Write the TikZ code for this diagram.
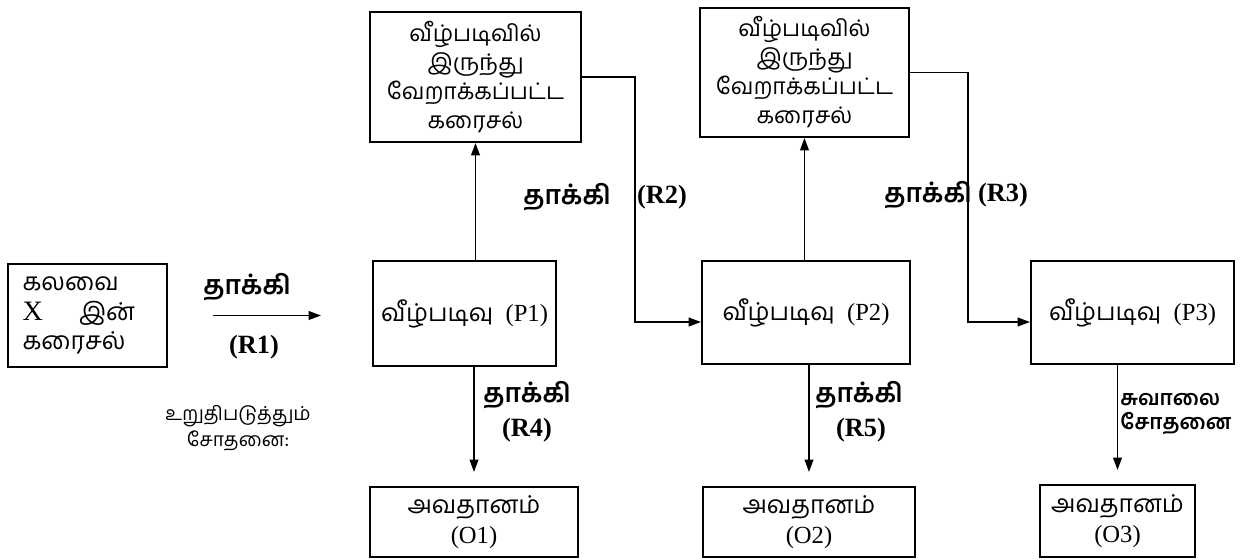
\documentclass[tikz,border=0pt]{standalone}
\usepackage{fontspec}
\setmainfont{Liberation Serif}
\newfontfamily\tamil[Script=Tamil]{Hind Madurai}
\usetikzlibrary{arrows.meta,positioning}
\tikzset{
  box/.style={draw,line width=1.2pt,inner sep=0pt,align=center,font=\fontsize{14}{17}\selectfont},
  arr/.style={-{Triangle[length=7pt,width=5pt]},line width=0.7pt},
  lbl/.style={inner sep=0pt,font=\fontsize{15}{18}\selectfont\bfseries},
  note/.style={inner sep=0pt,align=center,font=\fontsize{11}{15}\selectfont\tamil},
}

\begin{document}
\begin{tikzpicture}[x=0.02cm,y=-0.02cm]
  \useasboundingbox (0,0) rectangle (1251,560);
  \node[box,minimum width=3.18cm,minimum height=2.06cm,text width=2.6cm,align=left] (X) at (87.5,315.5)
    {{\tamil கலவை}\\\leavevmode\hbox to 2.25cm{\fontsize{16}{17}\selectfont X\hfill{\tamil\fontsize{14}{17}\selectfont இன்}}\\{\tamil கரைசல்}};
  \node[box,minimum width=3.66cm,minimum height=2.1cm] (P1) at (464.5,313.5) {{\tamil வீழ்படிவு}~~(P1)};
  \node[box,minimum width=4.16cm,minimum height=2.06cm] (P2) at (806,312.5) {{\tamil வீழ்படிவு}~~(P2)};
  \node[box,minimum width=4.06cm,minimum height=2.06cm] (P3) at (1132.5,312.5) {{\tamil வீழ்படிவு}~~(P3)};
  \node[box,minimum width=4.22cm,minimum height=2.6cm,font=\fontsize{13}{16.5}\selectfont\tamil] (T1) at (475.5,77)
    {வீழ்படிவில்\\இருந்து\\வேறாக்கப்பட்ட\\கரைசல்};
  \node[box,minimum width=4.18cm,minimum height=2.58cm,font=\fontsize{13}{16.5}\selectfont\tamil] (T2) at (804.5,72.5)
    {வீழ்படிவில்\\இருந்து\\வேறாக்கப்பட்ட\\கரைசல்};
  \node[box,minimum width=4.16cm,minimum height=1.4cm] (O1) at (474,522) {{\tamil அவதானம்}\\(O1)};
  \node[box,minimum width=4.24cm,minimum height=1.4cm] (O2) at (809,522) {{\tamil அவதானம்}\\(O2)};
  \node[box,minimum width=3.1cm,minimum height=1.44cm] (O3) at (1117.5,521) {{\tamil அவதானம்}\\(O3)};

  \coordinate (b2) at (635,322);
  \coordinate (b3) at (968,322);
  \draw[arr,shorten <=0.9cm,shorten >=1.02cm] (X.east) -- (X.east -| P1.west);
  \draw[arr] (T1.south |- P1.north) -- (T1.south);
  \draw[arr] (T2.south |- P2.north) -- (T2.south);
  \draw[arr] (T1.east) -| (b2) -- (b2 -| P2.west);
  \draw[arr] (T2.east) -| (b3) -- (b3 -| P3.west);
  \draw[arr,shorten >=0.28cm] (O1.north |- P1.south) -- (O1.north);
  \draw[arr,shorten >=0.28cm] (O2.north |- P2.south) -- (O2.north);
  \draw[arr,shorten >=0.28cm] (O3.north |- P3.south) -- (O3.north);

  \node[lbl] (t1) at (247,287) {\tamil தாக்கி};
  \node[lbl] (r1) at (254,347) {(R1)};
  \node[lbl] (t2) at (567,197) {\tamil தாக்கி};
  \node[lbl] (r2) at (662,197) {(R2)};
  \node[lbl] (t3) at (928,195) {\tamil தாக்கி};
  \node[lbl] (r3) at (1003,195) {(R3)};
  \node[lbl] (t4) at (527,395) {\tamil தாக்கி};
  \node[lbl] (r4) at (527,430) {(R4)};
  \node[lbl] (t5) at (859,395) {\tamil தாக்கி};
  \node[lbl] (r5) at (861,430) {(R5)};
  \node[note,anchor=west,align=left,font=\fontsize{12}{14}\selectfont\bfseries\tamil] (sv) at (1120,414) {சுவாலை\\சோதனை};
  \node[note] (ct) at (238,428) {உறுதிபடுத்தும்\\சோதனை:};
\end{tikzpicture}
\end{document}
